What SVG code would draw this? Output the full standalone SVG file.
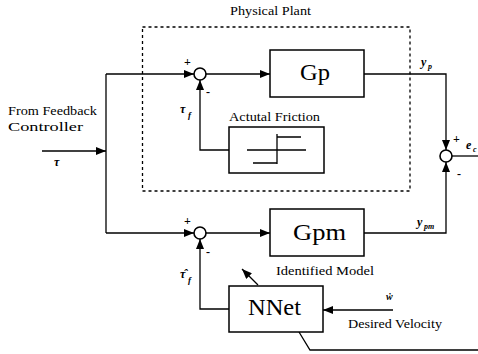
<svg xmlns="http://www.w3.org/2000/svg" width="478" height="354" viewBox="0 0 478 354">
<style>
.w{stroke:#000;stroke-width:1.3;fill:none}
.a{stroke:#000;stroke-width:1.3;fill:none;marker-end:url(#ah)}
.box{stroke:#000;stroke-width:1.5;fill:#fff}
.sum{stroke:#000;stroke-width:1.6;fill:#fff}
.t{font-family:"Liberation Serif","Times New Roman",serif;fill:#000}
.lbl{font-size:13px;font-weight:normal}
.big{font-size:23px}
.it{font-style:italic;font-weight:bold}
.pm{font-size:12px;font-weight:bold}
</style>
<defs>
<marker id="ah" markerUnits="userSpaceOnUse" markerWidth="10" markerHeight="8" refX="10" refY="4" orient="auto">
<path d="M0,0 L10,4 L0,8 Z" fill="#000"/>
</marker>
</defs>
<rect x="142.5" y="27" width="267.5" height="164" fill="none" stroke="#000" stroke-width="1.3" stroke-dasharray="3 3"/>
<text class="t lbl" x="230" y="15" textLength="81" lengthAdjust="spacingAndGlyphs">Physical Plant</text>
<g id="connectors">
<path class="a" d="M42,151 H106"/>
<path class="w" d="M106,74 V233"/>
<path class="a" d="M106,74 H194"/>
<path class="a" d="M206,74 H270"/>
<path class="a" d="M364,74 H446 V150"/>
<path class="a" d="M229,150 H200 V80"/>
<path class="a" d="M106,233 H194"/>
<path class="a" d="M206,233 H270"/>
<path class="a" d="M364,233 H446 V162"/>
<path class="w" d="M452,156 H478"/>
<path class="a" d="M229,309 H200 V239"/>
<path class="a" d="M393,310 H323"/>
<path class="a" d="M258,285 L242,269"/>
<path class="w" d="M299,332 L310,350 H478"/>
</g>
<g id="input">
<text class="t lbl" x="8" y="115" textLength="89" lengthAdjust="spacingAndGlyphs">From Feedback</text>
<text class="t lbl" x="8" y="131" textLength="75" lengthAdjust="spacingAndGlyphs">Controller</text>
<text class="t it" x="54" y="166" font-size="12">τ</text>
</g>
<g id="sum1">
<circle class="sum" cx="200" cy="74" r="6"/>
<text class="t pm" x="184" y="66">+</text>
<text class="t pm" x="206" y="96">-</text>
<text class="t it" x="180" y="113" font-size="12">τ</text>
<text class="t it" x="188" y="118" font-size="9">f</text>
</g>
<g id="gp">
<rect class="box" x="270" y="50" width="94" height="47"/>
<text class="t big" x="300" y="80" textLength="30" lengthAdjust="spacingAndGlyphs">Gp</text>
</g>
<g id="friction">
<text class="t lbl" x="229" y="121" textLength="91" lengthAdjust="spacingAndGlyphs">Actutal Friction</text>
<rect class="box" x="229" y="127" width="95" height="46"/>
<path class="w" d="M277,134 V164 M277,137 H301 M247,150 H306 M253,163 H277"/>
</g>
<g id="sum2">
<circle class="sum" cx="200" cy="233" r="6"/>
<text class="t pm" x="184" y="225">+</text>
<text class="t pm" x="206" y="256">-</text>
<text class="t it" x="180" y="278" font-size="12">τ̂</text>
<text class="t it" x="188" y="283" font-size="9">f</text>
</g>
<g id="gpm">
<rect class="box" x="270" y="209" width="94" height="47"/>
<text class="t big" x="293" y="240" textLength="53" lengthAdjust="spacingAndGlyphs">Gpm</text>
<text class="t lbl" x="276" y="275" textLength="98" lengthAdjust="spacingAndGlyphs">Identified Model</text>
</g>
<g id="nnet">
<rect class="box" x="229" y="286" width="94" height="46"/>
<text class="t big" x="248" y="315" textLength="53" lengthAdjust="spacingAndGlyphs">NNet</text>
</g>
<g id="desired">
<text class="t it" x="386" y="300" font-size="10">ẇ</text>
<text class="t lbl" x="348" y="328" textLength="94" lengthAdjust="spacingAndGlyphs">Desired Velocity</text>
</g>
<g id="sum3">
<circle class="sum" cx="446" cy="156" r="6"/>
<text class="t pm" x="453" y="143">+</text>
<text class="t pm" x="457" y="178">-</text>
<text class="t it" x="466" y="149" font-size="12">e</text>
<text class="t it" x="473" y="152" font-size="8">c</text>
</g>
<g id="outputs">
<text class="t it" x="421" y="66" font-size="12">y</text>
<text class="t it" x="428" y="69" font-size="8">p</text>
<text class="t it" x="417" y="226" font-size="12">y</text>
<text class="t it" x="424" y="229" font-size="8">pm</text>
</g>
</svg>
